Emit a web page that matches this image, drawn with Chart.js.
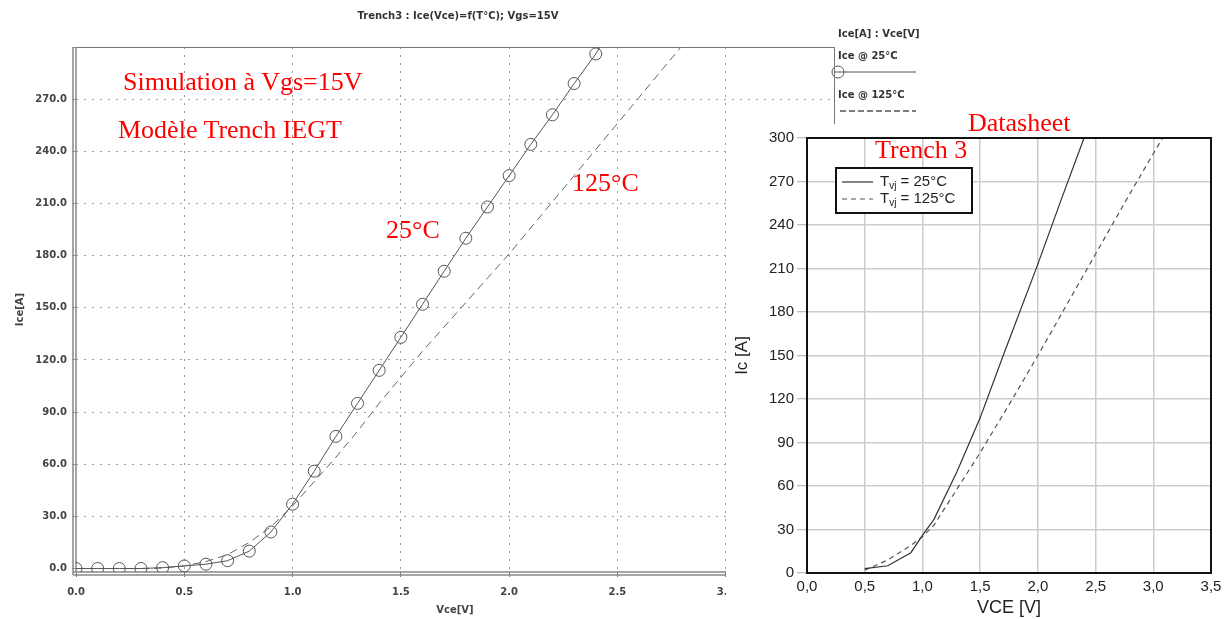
<!DOCTYPE html>
<html lang="fr">
  <head>
    <meta charset="UTF-8" />
    <title>Trench3 : Ice(Vce)</title>
    <script src="https://cdn.jsdelivr.net/npm/chart.js"></script>
    <style>
      body { margin: 0; width: 1228px; height: 619px; position: relative; overflow: hidden; background: #fff; }
      #simChart { position: absolute; left: 0; top: 0; }
      #dsChart { position: absolute; left: 726px; top: 124px; background: #fff; }
      .note {
        position: absolute; color: #f00; white-space: nowrap; line-height: 1;
        font-family: "Liberation Serif", "Times New Roman", serif; font-size: 26px;
      }
    </style>
  </head>
  <body>
    <canvas id="simChart" width="930" height="619"></canvas>
    <canvas id="dsChart" width="502" height="495"></canvas>
    <div class="note" style="left:123px; top:69px">Simulation à Vgs=15V</div>
    <div class="note" style="left:118px; top:117px">Modèle Trench IEGT</div>
    <div class="note" style="left:386px; top:217px">25°C</div>
    <div class="note" style="left:572px; top:170px">125°C</div>
    <div class="note" style="left:968px; top:110px">Datasheet</div>
    <div class="note" style="left:875px; top:137px">Trench 3</div>
    <script>
      // simulation (left): Vce [V] -> Ice [A]
      const simVce25 = [0.0, 0.1, 0.2, 0.3, 0.4, 0.5, 0.6, 0.7, 0.8, 0.9, 1.0, 1.1, 1.2,
        1.3, 1.4, 1.5, 1.6, 1.7, 1.8, 1.9, 2.0, 2.1, 2.2, 2.3, 2.4, 2.43];
      const simIce25 = [0, 0, 0, 0, 0.5, 1.5, 2.5, 4.5, 10, 21, 37, 56, 76,
        95, 114, 133, 152, 171, 190, 208, 226, 244, 261, 279, 296, 302];
      const simVce125 = [0.3, 0.4, 0.5, 0.6, 0.7, 0.8, 0.9, 1.0, 1.1, 1.2, 1.3, 1.4, 1.5,
        1.6, 1.7, 1.8, 1.9, 2.0, 2.1, 2.2, 2.3, 2.4, 2.5, 2.6, 2.7, 2.8];
      const simIce125 = [0, 0.3, 1.5, 4, 8, 15, 24, 36, 50, 64, 79, 95, 110,
        125, 139, 153, 167, 181, 196, 211, 226, 241, 256, 271, 286, 301];
      const simXTicks = [0, 0.5, 1.0, 1.5, 2.0, 2.5, 3.0, 3.5];
      const simYTicks = [0, 30, 60, 90, 120, 150, 180, 210, 240, 270, 300];

      // datasheet (right)
      const dsVce25 = [0.5, 0.7, 0.9, 1.0, 1.1, 1.3, 1.5, 1.7, 2.0, 2.2, 2.4];
      const dsIc25 = [3, 5, 14, 26, 37, 70, 107, 150, 213, 257, 300];
      const dsVce125 = [0.5, 0.7, 0.9, 1.0, 1.1, 1.3, 1.5, 1.78, 2.0, 2.2, 2.5, 2.8, 3.08];
      const dsIc125 = [2, 9, 19, 25, 33, 58, 83, 120, 150, 178, 220, 262, 300];

      const pts = (xs, ys) => xs.map((x, i) => ({ x: x, y: ys[i] }));
      const gray = "#555";
      const smallFont = { family: "DejaVu Sans", size: 10, weight: "bold" };

      const simFrame = {
        id: "simFrame",
        beforeDatasetsDraw(chart) {
          const { ctx, chartArea: a } = chart;
          ctx.save();
          ctx.strokeStyle = "#777";
          ctx.lineWidth = 1;
          ctx.beginPath();
          ctx.moveTo(a.left, a.top + 0.5);
          ctx.lineTo(a.right, a.top + 0.5);
          ctx.moveTo(a.right + 0.5, a.top);
          ctx.lineTo(a.right + 0.5, a.bottom);
          ctx.stroke();
          // double axis lines
          ctx.strokeStyle = "#888";
          ctx.lineWidth = 1.5;
          ctx.beginPath();
          ctx.moveTo(a.left - 3, a.top);
          ctx.lineTo(a.left - 3, a.bottom + 3);
          ctx.moveTo(a.left, a.top);
          ctx.lineTo(a.left, a.bottom);
          ctx.moveTo(a.left - 3, a.bottom);
          ctx.lineTo(a.right, a.bottom);
          ctx.moveTo(a.left - 3, a.bottom + 3);
          ctx.lineTo(a.right, a.bottom + 3);
          ctx.stroke();
          ctx.restore();
        },
        afterDraw(chart) {
          const { ctx, chartArea: a } = chart;
          const x0 = a.right + 4;
          ctx.save();
          ctx.fillStyle = "#333";
          ctx.font = "bold 10px 'DejaVu Sans'";
          ctx.textBaseline = "middle";
          ctx.textAlign = "center";
          ctx.fillText("Trench3 : Ice(Vce)=f(T°C); Vgs=15V", 458, 16);
          ctx.textAlign = "left";
          ctx.fillText("Ice[A] : Vce[V]", x0, a.top - 13);
          ctx.fillText(chart.data.datasets[0].label, x0, a.top + 9);
          ctx.fillText(chart.data.datasets[1].label, x0, a.top + 48);
          ctx.strokeStyle = gray;
          ctx.lineWidth = 1;
          ctx.beginPath();
          ctx.moveTo(a.right, a.top + 25);
          ctx.lineTo(a.right + 82, a.top + 25);
          ctx.stroke();
          ctx.beginPath();
          ctx.arc(x0, a.top + 25, 6, 0, Math.PI * 2);
          ctx.stroke();
          ctx.setLineDash([6, 3]);
          ctx.lineWidth = 1.5;
          ctx.beginPath();
          ctx.moveTo(x0 + 2, a.top + 64);
          ctx.lineTo(a.right + 82, a.top + 64);
          ctx.stroke();
          ctx.restore();
        },
      };

      new Chart(document.getElementById("simChart"), {
        type: "line",
        data: {
          datasets: [
            {
              label: "Ice @ 25°C",
              data: pts(simVce25, simIce25),
              borderColor: gray,
              borderWidth: 1,
              pointRadius: simVce25.map((v, i) => (i < 25 ? 6 : 0)),
              pointBackgroundColor: "rgba(0,0,0,0)",
              pointBorderColor: gray,
              pointBorderWidth: 1,
            },
            {
              label: "Ice @ 125°C",
              data: pts(simVce125, simIce125),
              borderColor: "#666",
              borderWidth: 1,
              borderDash: [8, 5],
              pointRadius: 0,
            },
          ],
        },
        options: {
          responsive: false,
          animation: false,
          layout: { padding: { left: 0, right: 96, top: 47, bottom: 0 } },
          plugins: {
            legend: { display: false },
            tooltip: { enabled: false },
          },
          scales: {
            x: {
              type: "linear",
              min: 0,
              max: 3.5,
              afterBuildTicks: (s) => { s.ticks = simXTicks.map((v) => ({ value: v })); },
              afterFit: (s) => { s.height = 47; },
              ticks: { callback: (v) => v.toFixed(1), color: "#444", font: smallFont, padding: 9, maxRotation: 0, autoSkip: false },
              grid: {
                color: (c) => (c.tick && (c.tick.value === 0 || c.tick.value === 3.5) ? "rgba(0,0,0,0)" : "#999"),
                tickColor: "#777",
                tickLength: 5,
                tickBorderDash: [],
              },
              border: { display: false, dash: [2, 6] },
              title: { display: true, text: "Vce[V]", color: "#444", font: smallFont, padding: { top: 0, bottom: 3 } },
            },
            y: {
              min: -2,
              max: 300,
              afterBuildTicks: (s) => { s.ticks = simYTicks.map((v) => ({ value: v })); },
              afterFit: (s) => { s.width = 76; },
              ticks: { callback: (v) => (v === 300 ? "" : v.toFixed(1)), color: "#444", font: smallFont, padding: 5 },
              grid: {
                color: (c) => (c.tick && (c.tick.value === 0 || c.tick.value === 300) ? "rgba(0,0,0,0)" : "#999"),
                tickColor: "#999",
                tickLength: 4,
                tickBorderDash: [],
              },
              border: { display: false, dash: [2, 6] },
              title: { display: true, text: "Ice[A]", color: "#444", font: smallFont, padding: { top: 14, bottom: 0 } },
            },
          },
        },
        plugins: [simFrame],
      });

      const dsFrame = {
        id: "dsFrame",
        afterDatasetsDraw(chart) {
          const { ctx, chartArea: a } = chart;
          ctx.save();
          ctx.strokeStyle = "#111";
          ctx.lineWidth = 2;
          ctx.strokeRect(a.left, a.top, a.right - a.left, a.bottom - a.top);
          // legend box
          const bx = a.left + 29, by = a.top + 30, bw = 136, bh = 45;
          ctx.fillStyle = "#fff";
          ctx.fillRect(bx, by, bw, bh);
          ctx.strokeRect(bx, by, bw, bh);
          const rows = [["25°C", []], ["125°C", [5, 4]]];
          rows.forEach((r, i) => {
            const y = by + 14 + i * 17;
            const ds = chart.data.datasets[i];
            ctx.strokeStyle = ds.borderColor;
            ctx.lineWidth = 1.2;
            ctx.setLineDash(r[1]);
            ctx.beginPath();
            ctx.moveTo(bx + 6, y);
            ctx.lineTo(bx + 37, y);
            ctx.stroke();
            ctx.setLineDash([]);
            ctx.fillStyle = "#222";
            ctx.textBaseline = "middle";
            ctx.font = "15px 'Liberation Sans'";
            let x = bx + 44;
            ctx.fillText("T", x, y);
            x += ctx.measureText("T").width;
            ctx.font = "10px 'Liberation Sans'";
            ctx.fillText("vj", x, y + 4);
            x += ctx.measureText("vj").width;
            ctx.font = "15px 'Liberation Sans'";
            ctx.fillText(" = " + r[0], x, y);
          });
          ctx.restore();
        },
      };

      new Chart(document.getElementById("dsChart"), {
        type: "line",
        data: {
          datasets: [
            { label: "Tvj = 25°C", data: pts(dsVce25, dsIc25), borderColor: "#333", borderWidth: 1.2, pointRadius: 0 },
            { label: "Tvj = 125°C", data: pts(dsVce125, dsIc125), borderColor: "#555", borderWidth: 1.2, borderDash: [5, 4], pointRadius: 0 },
          ],
        },
        options: {
          responsive: false,
          animation: false,
          layout: { padding: { left: 0, right: 17, top: 14, bottom: 0 } },
          plugins: { legend: { display: false }, tooltip: { enabled: false } },
          scales: {
            x: {
              type: "linear",
              min: 0,
              max: 3.5,
              afterFit: (s) => { s.height = 46; },
              ticks: { stepSize: 0.5, callback: (v) => v.toFixed(1).replace(".", ","), color: "#222", font: { family: "Liberation Sans", size: 15 }, padding: 5, maxRotation: 0 },
              grid: { color: "#cccccc", lineWidth: 1.5, drawTicks: false },
              border: { display: false },
              title: { display: true, text: "VCE [V]", color: "#222", font: { family: "Liberation Sans", size: 18 }, padding: { top: 0, bottom: 0 } },
            },
            y: {
              min: 0,
              max: 300,
              afterFit: (s) => { s.width = 81; },
              ticks: { stepSize: 30, color: "#222", font: { family: "Liberation Sans", size: 15 }, padding: 3 },
              grid: { color: "#cccccc", lineWidth: 1.5, tickLength: 10, tickColor: "#aaa", tickWidth: 1 },
              border: { display: false },
              title: { display: true, text: "Ic [A]", color: "#222", font: { family: "Liberation Sans", size: 17 }, padding: { top: 6, bottom: 0 } },
            },
          },
        },
        plugins: [dsFrame],
      });
    </script>
  </body>
</html>
